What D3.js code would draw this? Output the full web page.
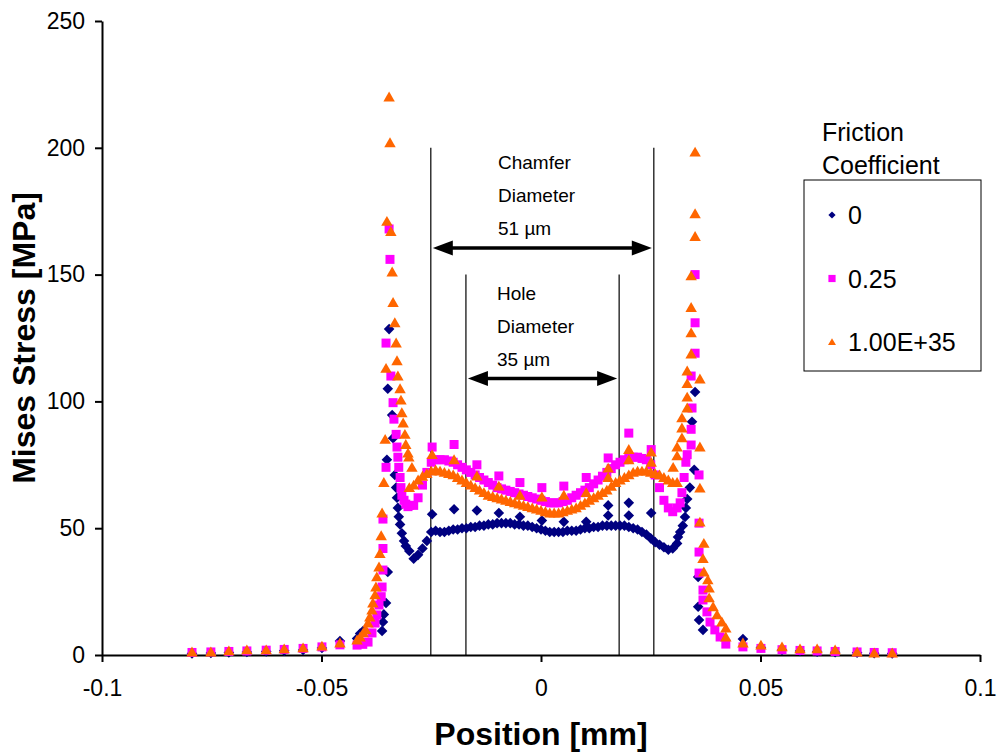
<!DOCTYPE html>
<html>
<head>
<meta charset="utf-8">
<script src="https://cdn.jsdelivr.net/npm/d3@7"></script>
<style>
  body { margin: 0; background: #fff; }
  svg { display: block; font-family: Arial, "Liberation Sans", sans-serif; }
</style>
</head>
<body>
<div id="viz"></div>
<script>
// series names / colours
const seriesNames = ["0", "0.25", "1.00E+35"];
const seriesColors = ["#000080", "#ff00ff", "#ff6600"];

// dense band of surface nodes across the hole (shared positions, mm)
const bandX = [-0.030,-0.029,-0.028,-0.027,-0.026,-0.025,-0.024,-0.023,-0.022,-0.021,
  -0.020,-0.019,-0.018,-0.017,-0.016,-0.015,-0.014,-0.013,-0.012,-0.011,
  -0.010,-0.009,-0.008,-0.007,-0.006,-0.005,-0.004,-0.003,-0.002,-0.001,
  0,0.001,0.002,0.003,0.004,0.005,0.006,0.007,0.008,0.009,
  0.010,0.011,0.012,0.013,0.014,0.015,0.016,0.017,0.018,0.019,
  0.020,0.021,0.022,0.023,0.024,0.025,0.026,0.027,0.028,0.029,
  0.030,0.031];
const bandBlue = [41,38,39.5,42,45,48.5,49,48.5,48.5,49,
  49.5,49.5,50,50,50.5,50.5,51,51,51.5,51.5,
  52,52,52,52,51.5,51.5,51,51,50.5,50,
  49.5,49,48.5,48.5,48.5,48.5,49,49,49,49.5,
  50,50,50.5,50.5,51,51,51,51,51,51,
  50.5,50,49.5,48.5,47.5,46,44.5,43.5,42.5,41.5,
  42,44];
const bandPink = [59,59,62,67,72,76,77,77,77,76.5,
  76,75,74,73,72,71,70,69,68,67,
  66,65.5,65,64.5,64,63.5,63,62.5,62,61.5,
  61,60.5,60,60,60,60.5,61,62,63,64,
  65,66,67.5,69,70.5,72,73.5,75,76,77,
  77.5,78,78,77.5,77,75,71,66,61,58,
  56.5,58];
const bandOrange = [66,67,69,70.5,71.5,72.5,73,72.5,72,71.5,
  71,70,69,68,67,66,65,64,63,62.5,
  62,61.5,61,60.5,60,59.5,59,58.5,58,57.5,
  57,56.5,56,56,56,56.5,57,57.5,58,59,
  60,61,62,63,64,65,66.5,68,69,70,
  71,72,72.5,72.5,72.5,72,71.5,71,70,69,
  68,68];

// remaining nodes of each series (mm, MPa)
const blueX = [-0.0795,-0.0752,-0.0711,-0.0670,-0.0626,-0.0585,-0.0542,-0.0499,-0.0458,
  -0.0419,-0.0412,-0.0405,-0.0362,-0.0360,-0.0358,-0.0353,-0.0349,-0.0351,-0.0349,-0.0346,
  -0.0339,-0.0337,-0.0333,-0.0330,-0.0328,-0.0326,-0.0324,-0.0321,-0.0317,-0.0312,-0.0308,
  -0.0248,-0.0198,-0.0146,-0.0096,-0.0048,0.0002,0.0052,0.0103,0.0153,0.0153,0.0200,0.0200,0.0251,
  0.0312,0.0317,0.0323,0.0328,0.0330,0.0333,0.0339,0.0344,0.0351,0.0349,
  0.0358,0.0358,0.0360,0.0369,
  0.0460,0.0501,0.0549,0.0590,0.0629,0.0670,0.0720,0.0759,0.0800];
const blueY = [0.6,0.8,1.0,1.2,1.4,1.7,2.0,2.8,5.5,
  6.5,8.5,9.5,9.5,13,16,20.5,32.7,77,105,128.5,
  94.6,85.5,71,66,62,58,54.5,51.5,48,45,43,
  55.5,57.5,57,56,54.5,53,52.5,52.5,59,55,60,55,56,
  46.5,48.5,51,54.4,58,61.5,66,92,103.7,73,
  30.8,19,13.8,9.9,
  6.3,3,2.0,1.6,1.3,1.1,0.9,0.7,0.6];

const pinkX = [-0.0795,-0.0752,-0.0711,-0.0670,-0.0626,-0.0585,-0.0542,-0.0499,-0.0458,
  -0.0419,-0.0406,-0.0394,-0.0385,-0.0378,-0.0374,-0.0369,-0.0364,-0.0362,-0.0360,-0.0360,-0.0360,
  -0.0353,-0.0353,-0.0346,-0.0344,-0.0342,
  -0.0337,-0.0335,-0.0330,-0.0328,-0.0326,-0.0324,-0.0321,-0.0319,-0.0317,-0.0312,-0.0308,-0.0303,
  -0.0248,-0.0198,-0.0146,-0.0096,-0.0048,0.0002,0.0052,0.0103,0.0153,0.0200,0.0251,
  0.0317,0.0321,0.0326,0.0330,0.0333,0.0342,0.0342,0.0344,0.0342,0.0351,0.0351,0.0351,
  0.0360,0.0360,0.0360,0.0360,0.0369,0.0369,0.0378,0.0385,0.0396,0.0408,0.0421,
  0.0460,0.0501,0.0549,0.0590,0.0629,0.0670,0.0720,0.0759,0.0800];
const pinkY = [1.0,1.2,1.4,1.6,1.9,2.2,2.6,3.2,4.0,
  3.9,4.2,5.1,8.7,12.6,15.8,19.7,23,26.8,33.5,42,53.6,
  74,123,168,156,110,
  99.5,93,87,82,78,74,70,66,63,61,59.5,58.5,
  82,83,75,70.6,68,66,66.6,70,77.7,87.5,81,
  60,64,70,76,79,82.8,89,97.4,110,119,131,150,
  71,52,40.6,32.3,25.6,21.7,17,13,9.9,7.1,4.3,
  3.2,2.6,2.1,1.8,1.6,1.4,1.2,1.0,0.9];

const orangeX = [-0.0795,-0.0752,-0.0711,-0.0670,-0.0626,-0.0585,-0.0542,-0.0499,-0.0458,
  -0.0419,-0.0412,-0.0405,-0.0399,-0.0394,-0.0390,-0.0385,-0.0383,-0.0378,-0.0376,
  -0.0374,-0.0369,-0.0367,-0.0364,-0.0362,-0.0358,-0.0355,-0.0353,-0.0351,-0.0346,
  -0.0344,-0.0342,-0.0339,-0.0337,-0.0333,-0.0330,-0.0328,-0.0326,-0.0321,-0.0319,
  -0.0317,-0.0314,-0.0310,-0.0308,-0.0303,-0.0301,-0.0294,
  -0.0248,-0.0198,-0.0146,-0.0096,-0.0048,0.0002,0.0052,0.0103,0.0153,0.0153,0.0200,0.0200,0.0251,0.0251,
  0.0301,0.0310,0.0310,0.0321,0.0321,0.0321,0.0333,0.0333,0.0333,0.0333,
  0.0342,0.0342,0.0342,0.0342,0.0351,0.0351,0.0351,0.0362,0.0362,0.0362,0.0362,
  0.0371,0.0369,0.0371,0.0380,0.0383,0.0383,0.0392,0.0401,0.0412,0.0421,0.0421,
  0.0460,0.0501,0.0549,0.0590,0.0629,0.0670,0.0720,0.0759,0.0800];
const orangeY = [1.2,1.2,1.6,2.0,2.0,2.4,2.8,3.5,4.7,
  5.9,7.1,8.7,9.9,12.6,15,17.7,20.5,23.7,26.8,
  30.8,34.7,40,47,56,68,85,113,171,220,
  202,167,151,139,131,123,116,110,105,100.5,
  95.5,91.5,87,83,79.6,78,74,
  79,77,70.6,66.6,63,62.3,63,64,73.7,70,81,77,80,76,
  74,78.5,82,85.6,89.5,93.5,97.4,101.7,107,112,
  118.7,127,137,149.5,165,174,198.3,108.8,82,65.8,52.4,
  44,38,32.7,29.6,26.4,22.5,19,15.8,13,10.6,7.1,
  4.7,3.9,3.2,2.4,2.4,2.0,1.2,0.8,0.8];

// axis ticks
const xTicks = [-0.1, -0.05, 0, 0.05, 0.1];
const xTickLabels = ["-0.1", "-0.05", "0", "0.05", "0.1"];
const yTicks = [0, 50, 100, 150, 200, 250];

// annotations (mm / MPa)
const chamferX = [-0.0251, 0.0257];
const chamferTop = 200;
const chamferArrowY = 160.5;
const chamferText = ["Chamfer", "Diameter", "51 µm"];
const holeX = [-0.0171, 0.0178];
const holeTop = 150;
const holeArrowY = 109;
const holeText = ["Hole", "Diameter", "35 µm"];

const W = 1000, H = 753;
const svg = d3.select("#viz").append("svg").attr("width", W).attr("height", H);

const x = d3.scaleLinear().domain([-0.1, 0.1]).range([102, 980]);
const y = d3.scaleLinear().domain([0, 250]).range([655, 21]);

function shape(kind, s) {
  if (kind === 0) return `M0,${-s}L${s},0L0,${s}L${-s},0Z`;
  if (kind === 1) return `M${-s},${-s}H${s}V${s}H${-s}Z`;
  return `M0,${-s * 1.05}L${s * 1.1},${s * 0.85}L${-s * 1.1},${s * 0.85}Z`;
}
const markSize = [5.3, 4.5, 5.2];

const series = [
  { band: bandBlue, nx: blueX, ny: blueY },
  { band: bandPink, nx: pinkX, ny: pinkY },
  { band: bandOrange, nx: orangeX, ny: orangeY },
];

// axes
const xAxis = svg.append("g")
  .attr("transform", `translate(0,${y(0)})`)
  .call(d3.axisBottom(x).tickValues(xTicks).tickFormat((d, i) => xTickLabels[i])
    .tickSize(7).tickSizeOuter(0).tickPadding(18));
const yAxis = svg.append("g")
  .attr("transform", `translate(${x(-0.1)},0)`)
  .call(d3.axisLeft(y).tickValues(yTicks).tickSize(7).tickSizeOuter(0).tickPadding(10));
[xAxis, yAxis].forEach((g) => {
  g.select(".domain").attr("stroke", "#000").attr("stroke-width", 2);
  g.selectAll(".tick line").attr("stroke", "#000").attr("stroke-width", 2);
  g.selectAll(".tick text").attr("fill", "#000").attr("font-size", 23)
    .attr("font-family", "Arial, 'Liberation Sans', sans-serif");
});

// annotation lines
const ann = svg.append("g");
chamferX.forEach((v) => {
  ann.append("line").attr("x1", x(v)).attr("x2", x(v))
    .attr("y1", y(chamferTop)).attr("y2", y(0))
    .attr("stroke", "#000").attr("stroke-width", 1.2);
});
holeX.forEach((v) => {
  ann.append("line").attr("x1", x(v)).attr("x2", x(v))
    .attr("y1", y(holeTop)).attr("y2", y(0))
    .attr("stroke", "#000").attr("stroke-width", 1.2);
});

function arrow(x0, x1, yy) {
  const a = x(x0) + 2, b = x(x1) - 2, yp = y(yy);
  ann.append("line").attr("x1", a + 10).attr("x2", b - 10).attr("y1", yp).attr("y2", yp)
    .attr("stroke", "#000").attr("stroke-width", 3.5);
  ann.append("path").attr("d", `M${a},${yp}L${a + 20},${yp - 7.5}L${a + 20},${yp + 7.5}Z`).attr("fill", "#000");
  ann.append("path").attr("d", `M${b},${yp}L${b - 20},${yp - 7.5}L${b - 20},${yp + 7.5}Z`).attr("fill", "#000");
}
arrow(chamferX[0], chamferX[1], chamferArrowY);
arrow(holeX[0], holeX[1], holeArrowY);

ann.selectAll(".ct").data(chamferText).join("text")
  .attr("x", 498).attr("y", (d, i) => y(chamferTop) + 21 + i * 33)
  .attr("font-size", 19).text((d) => d);
ann.selectAll(".ht").data(holeText).join("text")
  .attr("x", 497).attr("y", (d, i) => y(holeTop) + 25 + i * 33)
  .attr("font-size", 19).text((d) => d);

// data points
series.forEach((s, k) => {
  const pts = bandX.map((v, i) => [v, s.band[i]])
    .concat(s.nx.map((v, i) => [v, s.ny[i]]));
  svg.append("g").selectAll("path").data(pts).join("path")
    .attr("transform", (d) => `translate(${x(d[0])},${y(d[1])})`)
    .attr("d", shape(k, markSize[k]))
    .attr("fill", seriesColors[k]);
});

// axis titles
svg.append("text").attr("x", 541).attr("y", 745).attr("text-anchor", "middle")
  .attr("font-size", 32).attr("font-weight", "bold").text("Position [mm]");
svg.append("text").attr("transform", "translate(35,338) rotate(-90)")
  .attr("text-anchor", "middle").attr("font-size", 32).attr("font-weight", "bold")
  .text("Mises Stress [MPa]");

// legend
const lg = svg.append("g");
lg.append("text").attr("x", 822).attr("y", 141).attr("font-size", 25).text("Friction");
lg.append("text").attr("x", 822).attr("y", 174).attr("font-size", 25).text("Coefficient");
lg.append("rect").attr("x", 804).attr("y", 180).attr("width", 177).attr("height", 191)
  .attr("fill", "#fff").attr("stroke", "#000").attr("stroke-width", 1);
seriesNames.forEach((name, k) => {
  const cy = 215 + k * 63.5;
  lg.append("path").attr("transform", `translate(832,${cy})`)
    .attr("d", shape(k, 3.6)).attr("fill", seriesColors[k]);
  lg.append("text").attr("x", 848).attr("y", cy + 9).attr("font-size", 25).text(name);
});
</script>
</body>
</html>
